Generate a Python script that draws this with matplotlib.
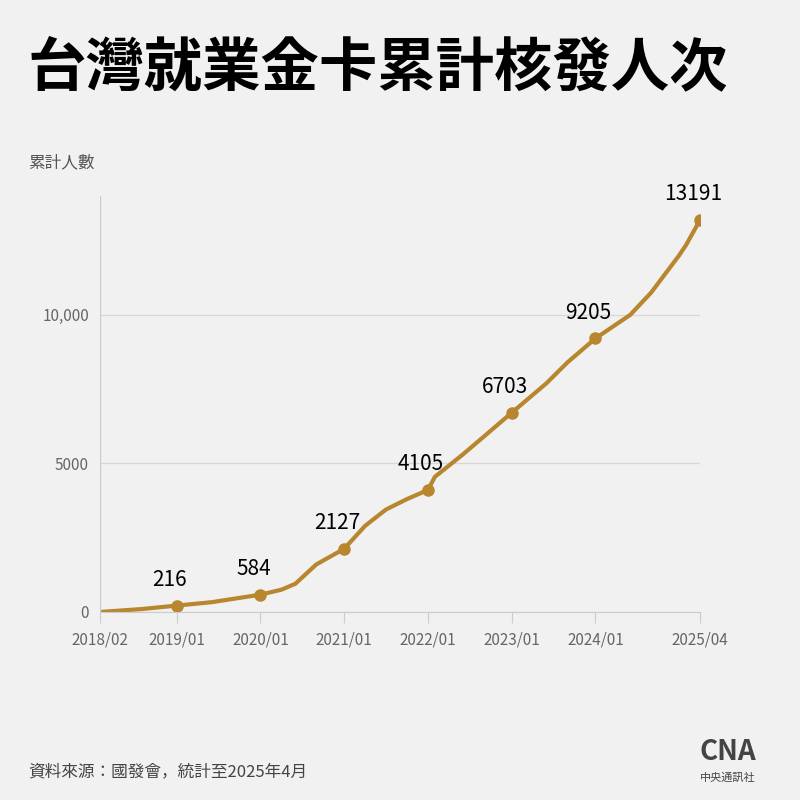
import matplotlib
matplotlib.use("Agg")
import matplotlib.pyplot as plt

months = ["2018/02","2018/08","2019/01","2019/06","2020/01","2020/04","2020/06","2020/09","2021/01","2021/04","2021/07","2021/10","2022/01","2022/02","2022/06","2022/09","2023/01","2023/06","2023/09","2024/01","2024/06","2024/09","2025/01","2025/02","2025/04"]
values = [0,100,216,330,584,750,950,1600,2127,2900,3450,3800,4105,4550,5300,5900,6703,7700,8400,9205,10000,10750,12000,12350,13191]
labeled = ["2019/01","2020/01","2021/01","2022/01","2023/01","2024/01","2025/04"]
ticks = ["2018/02","2019/01","2020/01","2021/01","2022/01","2023/01","2024/01","2025/04"]

def idx(m):
    y, mo = map(int, m.split("/"))
    return (y-2018)*12 + mo - 2

plt.rcParams["font.family"] = ["Noto Sans CJK TC", "Noto Sans CJK JP", "Noto Sans CJK SC", "DejaVu Sans"]
bg = "#f1f1f1"
col = "#b8862e"
fig = plt.figure(figsize=(8,8), dpi=100, facecolor=bg)
ax = fig.add_axes([0.125, 0.235, 0.75, 0.52], facecolor=bg)
x = [idx(m) for m in months]
ax.plot(x, values, color=col, lw=3, solid_capstyle="round")
for m in labeled:
    v = values[months.index(m)]
    ax.plot(idx(m), v, "o", color=col, ms=8)
    ax.text(idx(m)-1, v+500, str(v), ha="center", va="bottom", fontsize=15)
ax.set_xlim(0, 86); ax.set_ylim(0, 14000)
ax.set_xticks([idx(t) for t in ticks]); ax.set_xticklabels(ticks, fontsize=11, color="#666")
ax.set_yticks([0,5000,10000]); ax.set_yticklabels(["0","5000","10,000"], fontsize=11, color="#666")
ax.grid(axis="y", color="#d8d8d8", lw=1)
ax.grid(axis="x", visible=False)
for s in ["top","right","left"]: ax.spines[s].set_visible(False)
ax.spines["bottom"].set_color("#ccc")
ax.tick_params(axis="y", length=0, pad=8)
ax.tick_params(axis="x", color="#ccc", length=8, pad=6)
ax.axvline(0, color="#ccc", lw=1)
fig.text(0.035, 0.915, "台灣就業金卡累計核發人次", fontsize=42, fontweight="bold", va="center")
fig.text(0.035, 0.797, "累計人數", fontsize=12, color="#555", va="center")
fig.text(0.035, 0.035, "資料來源：國發會，統計至2025年4月", fontsize=12, color="#444", va="center")
fig.text(0.91, 0.06, "CNA", fontsize=20, fontweight="bold", color="#444", ha="center", va="center")
fig.text(0.91, 0.028, "中央通訊社", fontsize=8, color="#444", ha="center", va="center")
fig.savefig("out.png", facecolor=bg)
